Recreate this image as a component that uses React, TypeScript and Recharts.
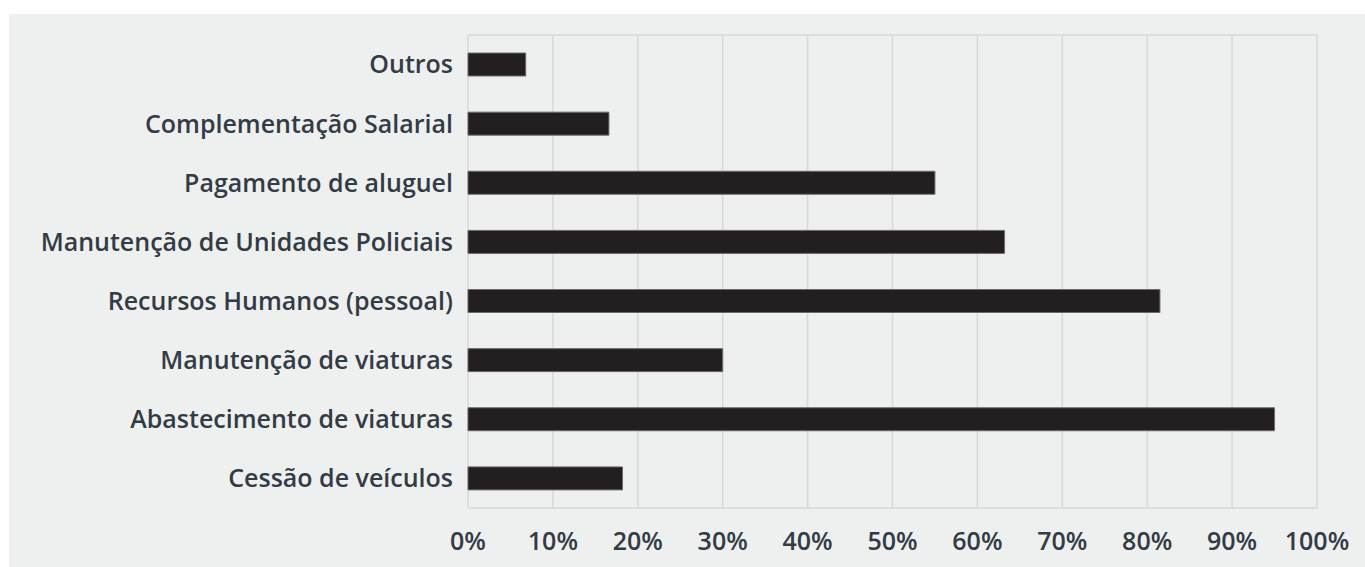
import React from 'react';
import { BarChart, Bar, XAxis, YAxis, CartesianGrid } from 'recharts';

const categories = [
  'Outros',
  'Complementação Salarial',
  'Pagamento de aluguel',
  'Manutenção de Unidades Policiais',
  'Recursos Humanos (pessoal)',
  'Manutenção de viaturas',
  'Abastecimento de viaturas',
  'Cessão de veículos',
];
const shares = [6.8, 16.6, 55.0, 63.2, 81.5, 30.0, 95.0, 18.2];
const xTicks = [0, 10, 20, 30, 40, 50, 60, 70, 80, 90, 100];

const data = categories.map((name, i) => ({ name, value: shares[i] }));

const textColor = '#333b45';
const font = '"Open Sans", sans-serif';

const App: React.FC = () => {
  return (
    <div
      style={{
        position: 'absolute',
        left: 9,
        top: 14,
        width: 1356,
        height: 553,
        background: '#eef0ef',
      }}
    >
      <BarChart
        width={1356}
        height={553}
        data={data}
        layout="vertical"
        margin={{ top: 21, right: 48, left: 0, bottom: 0 }}
      >
        <CartesianGrid
          stroke="#d8d8d8"
          strokeWidth={1.5}
          horizontalCoordinatesGenerator={({ offset }: any) => [offset.top, offset.top + offset.height]}
        />
        <XAxis
          type="number"
          domain={[0, 100]}
          ticks={xTicks}
          tickFormatter={(v) => `${v}%`}
          axisLine={false}
          tickLine={false}
          tickSize={0}
          tickMargin={24}
          height={59}
          interval={0}
          tick={{ fill: textColor, fontSize: 25, fontFamily: font, fontWeight: 600 }}
        />
        <YAxis
          type="category"
          dataKey="name"
          width={459}
          axisLine={false}
          tickLine={false}
          tickSize={0}
          tickMargin={15}
          interval={0}
          tick={{ fill: textColor, fontSize: 25, fontFamily: font, fontWeight: 600 }}
        />
        <Bar
          dataKey="value"
          fill="#231f20"
          stroke="#6b6b6b"
          strokeWidth={1}
          barSize={23}
          isAnimationActive={false}
        />
      </BarChart>
    </div>
  );
};

export default App;
